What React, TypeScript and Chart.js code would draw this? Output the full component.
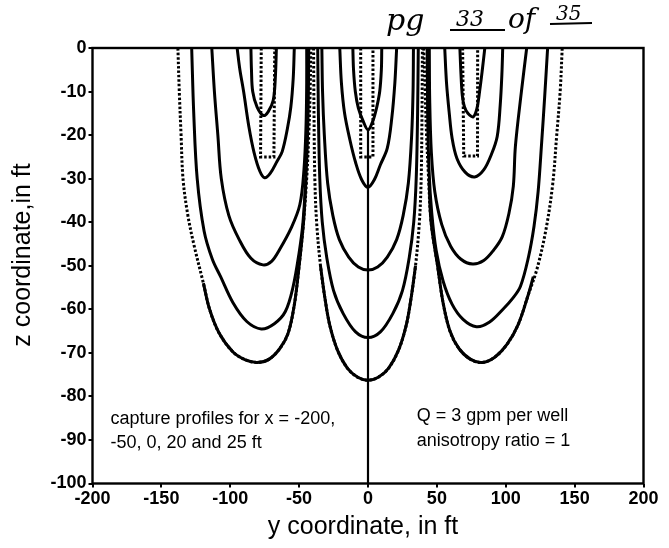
import React, { useEffect, useRef } from 'react';
import { Chart, registerables } from 'chart.js';

Chart.register(...registerables);

type P = [number, number];

// axis ticks
const X_TICKS = [-200, -150, -100, -50, 0, 50, 100, 150, 200];
const Z_TICKS = [0, -10, -20, -30, -40, -50, -60, -70, -80, -90, -100];

// ---- left well (y ~ -76) ----
const L1: P[] = [[-85, 0], [-84.6, -5], [-83.7, -10], [-80.5, -13.6], [-76, -15.5], [-72.4, -14.6], [-68.8, -12], [-67.3, -7], [-66.5, 0]];
const L1_RECT: P[] = [[-77.5, 0], [-78, -25], [-68.3, -25], [-67.7, 0]];
const L2: P[] = [[-95, 0], [-93, -5], [-90.3, -10], [-86.5, -18], [-82.7, -24], [-78.5, -28.3], [-75, -29.8], [-71, -28.8], [-66, -26], [-62.3, -23.8], [-58.5, -18.5], [-56, -13.5], [-54.3, -7], [-53.5, 0]];
const L3: P[] = [[-113.4, 0], [-111.5, -10], [-109, -20], [-106.5, -30], [-101, -38.5], [-93.5, -44], [-85, -48.3], [-76.3, -49.8], [-70, -49], [-64.2, -46.3], [-56, -41.5], [-49.5, -36], [-46.5, -28], [-45, -18], [-44.5, -8], [-44.5, 0]];
const L4: P[] = [[-128, 0], [-126.5, -15], [-124, -30], [-119, -42], [-113, -48.5], [-107, -52.5], [-98, -58.5], [-88, -62.8], [-77.5, -64.5], [-68, -63.3], [-60, -60.5], [-54.5, -55], [-50, -47], [-47.2, -40], [-44.8, -28], [-43.5, -15], [-43, 0]];
const L5: P[] = [[-119.5, -54], [-115, -60], [-108, -65.5], [-98, -69.8], [-89, -71.6], [-80.5, -72.2], [-72, -71.5], [-64, -69], [-58, -65.5], [-53.5, -59], [-50, -50], [-46.8, -40], [-45, -30]];
const L_OUTER: P[] = [[-138, 0], [-137, -10], [-135.7, -20], [-134.3, -30], [-131, -38], [-126.5, -45], [-119.5, -54], [-115, -60], [-108, -65.5], [-98, -69.8], [-89, -71.6], [-80.5, -72.2], [-72, -71.5], [-64, -69], [-58, -65.5], [-53.5, -59], [-50, -50], [-46.8, -40], [-44.5, -30], [-43, -20], [-42, -10], [-41.5, 0]];

// ---- centre well (y ~ 0) ----
const C1: P[] = [[-11, 0], [-10.5, -5], [-9.2, -10], [-7, -13.8], [-3.5, -16.8], [0, -18.8], [3.5, -16.8], [6.2, -13.8], [8.5, -10], [9.7, -5], [10, 0]];
const C1_RECT: P[] = [[-5.3, 0], [-5.3, -25], [3.6, -25], [3.6, 0]];
const C2: P[] = [[-20.5, 0], [-19.3, -8], [-17, -15], [-13.2, -21], [-9, -26.3], [-4.5, -30.3], [0, -32], [4.5, -30.3], [9, -26.8], [14, -23], [17.3, -16], [19.5, -8], [20.8, 0]];
const C3: P[] = [[-33.5, 0], [-33, -10], [-31.7, -20], [-29.3, -31], [-25.5, -38.5], [-20.8, -44], [-14, -48], [-7, -50.3], [0, -51], [7, -50.3], [14, -48], [20.8, -44], [25.5, -38.5], [29.3, -31], [31.7, -20], [32.7, -10], [33, 0]];
const C4: P[] = [[-36.5, 0], [-36, -15], [-35, -30], [-33.2, -40], [-30, -48], [-25, -55.7], [-18, -61], [-9, -65.2], [0, -66.5], [9, -65.2], [18, -61], [25, -55.7], [30, -48], [33.2, -40], [35, -30], [36, -15], [36.5, 0]];
const C5: P[] = [[-34.5, -50], [-31, -58], [-27.5, -64], [-22, -69.5], [-15, -73.5], [-7.5, -75.6], [0, -76.3], [7.5, -75.6], [15, -73.5], [22, -69.5], [27.5, -64], [31, -58], [34.5, -50]];
const C_OUTER: P[] = [[-39.5, 0], [-39.2, -15], [-38.6, -30], [-37.3, -40], [-34.5, -50], [-31, -58], [-27.5, -64], [-22, -69.5], [-15, -73.5], [-7.5, -75.6], [0, -76.3], [7.5, -75.6], [15, -73.5], [22, -69.5], [27.5, -64], [31, -58], [34.5, -50], [37.3, -40], [38.6, -30], [39.2, -15], [39.5, 0]];
const C_AXIS: P[] = [[0, -18.8], [0, -100]];

// ---- right well (y ~ 77) ----
const R1: P[] = [[66.7, 0], [67.5, -6], [68.5, -11], [70, -13.5], [72.5, -15], [76.4, -15.8], [79, -14], [81, -10], [83, -5], [84.8, 0]];
const R1_RECT: P[] = [[68.7, 0], [69.5, -24.8], [79.5, -24.8], [79.6, 0]];
const R2: P[] = [[55.7, 0], [57, -8], [59, -15], [61, -20.6], [64.5, -25.3], [70.5, -28.5], [77.5, -29.6], [84, -28], [89.5, -24.5], [93.8, -20.3], [96, -13], [97.2, -6], [97.8, 0]];
const R3: P[] = [[44.5, 0], [44.8, -12], [46, -24], [48.5, -33], [53.5, -40.5], [60, -45.5], [67.5, -48.5], [76, -49.6], [84, -48.8], [91, -46.5], [97.5, -43.3], [102.3, -38], [105.5, -31.7], [107, -22.6], [111, -11], [115.2, 0]];
const R4: P[] = [[43, 0], [43.3, -15], [44.3, -28], [46.3, -38], [49.5, -46.5], [54.5, -53.5], [61, -58.8], [69, -62.3], [78.7, -64], [88, -63], [98, -60], [105, -57.5], [110.7, -54.7], [116.5, -48], [120.5, -41], [123.5, -33], [126, -22], [128.3, -11], [130.4, 0]];
const R5: P[] = [[44.3, -30], [45.8, -40], [50.5, -50], [54.5, -58.5], [59.5, -65], [66, -69], [74.5, -71.5], [83, -72.2], [92, -71], [101, -68], [109, -63.5], [116, -57], [120, -52.5]];
const R_OUTER: P[] = [[40.5, 0], [41.5, -10], [42.5, -20], [44, -30], [45.8, -40], [50.5, -50], [54.5, -58.5], [59.5, -65], [66, -69], [74.5, -71.5], [83, -72.2], [92, -71], [101, -68], [109, -63.5], [116, -57], [122.7, -50.7], [129, -42], [134, -31.5], [137, -20], [139.5, -10], [141, 0]];

const SOLID_CURVES: P[][] = [L1, L2, L3, L4, L5, C1, C2, C3, C4, C5, R1, R2, R3, R4, R5];
const DOTTED_CURVES: P[][] = [L_OUTER, C_OUTER, R_OUTER];
const DOTTED_RECTS: P[][] = [L1_RECT, C1_RECT, R1_RECT];

const NOTE_LEFT = ['capture profiles for x = -200,', '-50, 0, 20 and 25 ft'];
const NOTE_RIGHT = ['Q = 3 gpm per well', 'anisotropy ratio = 1'];
const X_TITLE = 'y coordinate, in ft';
const Y_TITLE = 'z coordinate,in ft';

const TICK_FONT = "'Liberation Sans', Arial, sans-serif";
const TEXT_FONT = "'Liberation Sans', Arial, sans-serif";

const toXY = (pts: P[]) => pts.map(([x, y]) => ({ x, y }));

const solidSet = (pts: P[]) => ({
  data: toXY(pts),
  showLine: true,
  borderColor: '#000',
  borderWidth: 3,
  pointRadius: 0,
  tension: 0.35,
  fill: false,
});

const dottedSet = (pts: P[], tension: number) => ({
  data: toXY(pts),
  showLine: true,
  borderColor: '#000',
  borderWidth: 3,
  borderDash: [2.5, 2],
  borderCapStyle: 'butt',
  pointRadius: 0,
  tension,
  fill: false,
});

const decorPlugin = {
  id: 'decor',
  afterDatasetsDraw(chart: any) {
    const { ctx, chartArea } = chart;
    ctx.save();
    ctx.strokeStyle = '#000';
    ctx.lineWidth = 2.4;
    ctx.strokeRect(chartArea.left, chartArea.top, chartArea.right - chartArea.left, chartArea.bottom - chartArea.top);
    ctx.restore();
  },
  afterDraw(chart: any) {
    const { ctx, scales } = chart;
    const xs = scales.x;
    const ys = scales.y;
    ctx.save();
    ctx.fillStyle = '#000';
    ctx.textBaseline = 'middle';
    ctx.textAlign = 'left';
    ctx.font = `18px ${TEXT_FONT}`;
    NOTE_LEFT.forEach((t, i) => {
      ctx.fillText(t, xs.getPixelForValue(-186.9), ys.getPixelForValue(-85.3 - i * 5.5));
    });
    NOTE_RIGHT.forEach((t, i) => {
      ctx.fillText(t, xs.getPixelForValue(35.3), ys.getPixelForValue(-84.6 - i * 5.6));
    });

    // axis titles
    ctx.font = `25px ${TEXT_FONT}`;
    ctx.textAlign = 'center';
    ctx.fillText(X_TITLE, 363, 527);
    ctx.save();
    ctx.translate(23, 255);
    ctx.rotate(-Math.PI / 2);
    ctx.fillText(Y_TITLE, 0, 0);
    ctx.restore();

    // handwritten page note
    ctx.textAlign = 'left';
    ctx.textBaseline = 'alphabetic';
    ctx.font = "italic 30px 'DejaVu Serif', serif";
    ctx.fillText('pg', 386, 30);
    ctx.font = "italic 22px 'DejaVu Serif', serif";
    ctx.fillText('33', 456, 26);
    ctx.font = "italic 28px 'DejaVu Serif', serif";
    ctx.fillText('of', 508, 28);
    ctx.font = "italic 20px 'DejaVu Serif', serif";
    ctx.fillText('35', 556, 20);
    ctx.lineWidth = 2;
    ctx.beginPath();
    ctx.moveTo(450, 30);
    ctx.lineTo(505, 30);
    ctx.moveTo(550, 24);
    ctx.lineTo(592, 23);
    ctx.stroke();
    ctx.restore();
  },
};

export default function App() {
  const ref = useRef<HTMLCanvasElement | null>(null);
  useEffect(() => {
    if (!ref.current) return;
    const datasets: any[] = [
      ...DOTTED_CURVES.map((c) => dottedSet(c, 0.35)),
      ...DOTTED_RECTS.map((c) => dottedSet(c, 0)),
      ...SOLID_CURVES.map((c) => solidSet(c)),
      { ...solidSet(C_AXIS), tension: 0, borderWidth: 2.2 },
    ];
    const chart = new Chart(ref.current, {
      type: 'scatter',
      data: { datasets },
      options: {
        animation: false,
        responsive: false,
        devicePixelRatio: 1,
        events: [],
        layout: { padding: { top: 48, right: 25.5, left: 0, bottom: 0 } },
        plugins: { legend: { display: false }, tooltip: { enabled: false } },
        scales: {
          x: {
            type: 'linear',
            min: -200,
            max: 200,
            afterBuildTicks: (s: any) => {
              s.ticks = X_TICKS.map((v) => ({ value: v }));
            },
            afterFit: (s: any) => {
              s.height = 64.5;
            },
            grid: { drawOnChartArea: false, drawTicks: true, tickLength: 4, color: '#000', lineWidth: 2 },
            border: { display: false },
            ticks: { color: '#000', padding: 1, maxRotation: 0, autoSkip: false, font: { family: TICK_FONT, size: 18, weight: 'bold' } },
          },
          y: {
            type: 'linear',
            min: -100,
            max: 0,
            afterBuildTicks: (s: any) => {
              s.ticks = Z_TICKS.map((v) => ({ value: v }));
            },
            afterFit: (s: any) => {
              s.width = 92.5;
            },
            grid: { drawOnChartArea: false, drawTicks: true, tickLength: 4, color: '#000', lineWidth: 2 },
            border: { display: false },
            ticks: { color: '#000', padding: 2, autoSkip: false, font: { family: TICK_FONT, size: 18, weight: 'bold' } },
          },
        },
      },
      plugins: [decorPlugin],
    } as any);
    return () => chart.destroy();
  }, []);
  return (
    <div style={{ position: 'absolute', left: 0, top: 0, width: 669, height: 548, background: '#fff' }}>
      <canvas ref={ref} width={669} height={548} style={{ display: 'block' }} />
    </div>
  );
}
